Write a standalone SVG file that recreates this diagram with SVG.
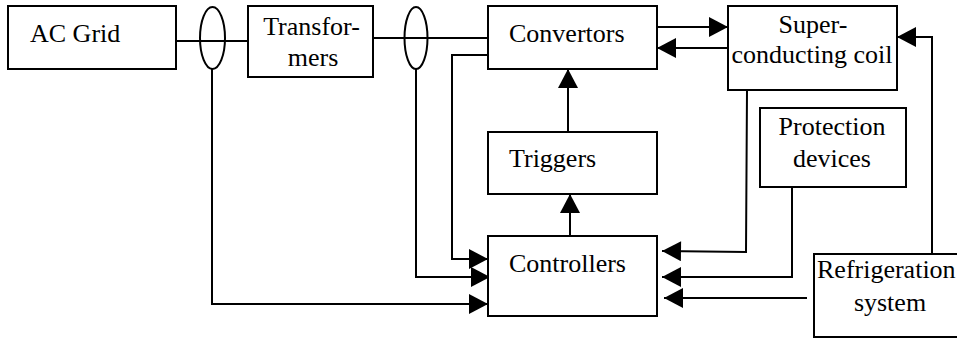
<svg xmlns="http://www.w3.org/2000/svg" width="957" height="341" viewBox="0 0 957 341">
<style>
.box{fill:#fff;stroke:#000;stroke-width:2}
.t{font-size:26px;fill:#000}
.m{text-anchor:middle}
.c{fill:none;stroke:#000;stroke-width:2}
</style>
<defs>
<marker id="ah" markerUnits="userSpaceOnUse" markerWidth="20" markerHeight="20" viewBox="0 0 19 20" refX="19" refY="10" orient="auto">
<path d="M0,0 L19,10 L0,20 z" fill="#000"/>
</marker>
</defs>
<rect width="957" height="341" fill="#fff"/>
<g id="connectors">
<line class="c" x1="176" y1="41" x2="248" y2="41"/>
<line class="c" x1="373" y1="38" x2="488" y2="38"/>
<ellipse class="c" cx="212.5" cy="38" rx="12.5" ry="31"/>
<ellipse class="c" cx="416" cy="38" rx="11.5" ry="31"/>
<polyline class="c" points="212,69 212,304 488,304" marker-end="url(#ah)"/>
<polyline class="c" points="416,69 416,277 490,277" marker-end="url(#ah)"/>
<polyline class="c" points="488,55 452,55 452,259 488,259" marker-end="url(#ah)"/>
<line class="c" x1="657" y1="27" x2="728" y2="27" marker-end="url(#ah)"/>
<line class="c" x1="728" y1="48" x2="657" y2="48" marker-end="url(#ah)"/>
<line class="c" x1="568" y1="132" x2="568" y2="69" marker-end="url(#ah)"/>
<line class="c" x1="570" y1="236" x2="570" y2="194" marker-end="url(#ah)"/>
<polyline class="c" points="747,90 746,252 662,251" marker-end="url(#ah)"/>
<polyline class="c" points="792,187 792,277 662,277" marker-end="url(#ah)"/>
<line class="c" x1="807" y1="298" x2="664" y2="298" marker-end="url(#ah)"/>
<polyline class="c" points="932,254 932,37 897,37" marker-end="url(#ah)"/>
</g>
<g font-family="'Liberation Serif', 'Times New Roman', serif">
<g id="acgrid"><rect class="box" x="8" y="6" width="168" height="63"/><text class="t" x="30" y="42">AC Grid</text></g>
<g id="transformers"><rect class="box" x="248" y="6" width="125" height="71"/><text class="t m" x="311.5" y="35">Transfor-</text><text class="t m" x="313" y="66">mers</text></g>
<g id="convertors"><rect class="box" x="488" y="6" width="169" height="63"/><text class="t" x="509" y="42">Convertors</text></g>
<g id="coil"><rect class="box" x="728" y="6" width="169" height="84"/><text class="t m" x="813" y="33">Super-</text><text class="t m" x="812" y="63">conducting coil</text></g>
<g id="triggers"><rect class="box" x="488" y="132" width="169" height="62"/><text class="t" x="509" y="167">Triggers</text></g>
<g id="controllers"><rect class="box" x="488" y="236" width="169" height="80"/><text class="t" x="509" y="272">Controllers</text></g>
<g id="protection"><rect class="box" x="760" y="108" width="146" height="79"/><text class="t m" x="832" y="135">Protection</text><text class="t m" x="832" y="167">devices</text></g>
<g id="refrigeration"><rect class="box" x="814" y="254" width="150" height="83"/><text class="t" x="817" y="278">Refrigeration</text><text class="t m" x="890" y="311">system</text></g>
</g>
</svg>
